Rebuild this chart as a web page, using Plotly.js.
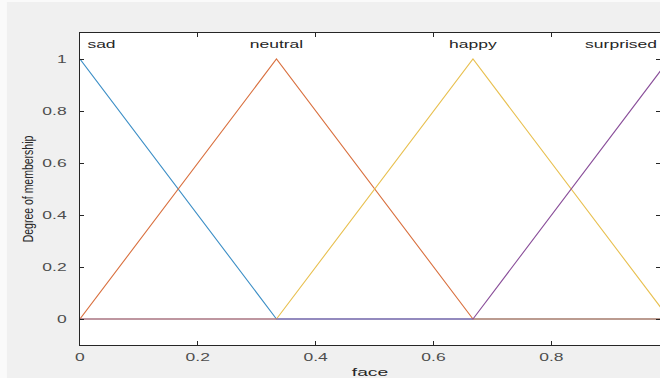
<!DOCTYPE html>
<html><head><meta charset="utf-8">
<script src="https://cdn.plot.ly/plotly-3.0.1.min.js"></script>
<style>html,body{margin:0;padding:0;background:#f0f0f0;}</style>
</head><body><div id="chart" style="width:660px;height:378px;"></div>
<script>
const mfNames = ["sad", "neutral", "happy", "surprised"];
const sadX = [0, 0.3333, 1];
const sadY = [1, 0, 0];
const neutralX = [0, 0.3333, 0.6667, 1];
const neutralY = [0, 1, 0, 0];
const happyX = [0, 0.3333, 0.6667, 1];
const happyY = [0, 0, 1, 0];
const surprisedX = [0, 0.6667, 1];
const surprisedY = [0, 0, 1];
const labelX = [0.0365, 0.3333, 0.6667, 0.918];
const labelY = [1.05, 1.05, 1.05, 1.05];
const xTicks = [0, 0.2, 0.4, 0.6, 0.8];
const yTicks = [0, 0.2, 0.4, 0.6, 0.8, 1];
const colors = ["#3d8fc6", "#d9703f", "#e8c050", "#8a4f9a"];

const series = [[sadX, sadY], [neutralX, neutralY], [happyX, happyY], [surprisedX, surprisedY]];
const traces = series.map((s, i) => ({
  x: s[0], y: s[1], type: "scatter", mode: "lines",
  line: {color: colors[i], width: 1.1}, hoverinfo: "skip", showlegend: false
}));
traces.push({
  x: labelX, y: labelY, type: "scatter", mode: "text", text: mfNames,
  textposition: "middle center", cliponaxis: false,
  textfont: {family: "Liberation Sans, Arial, sans-serif", size: 10, color: "#262626"},
  showlegend: false, hoverinfo: "skip"
});

const axisFont = {family: "Liberation Sans, Arial, sans-serif", size: 10, color: "#4d4d4d"};
const layout = {
  width: 660, height: 378,
  margin: {l: 80, r: 0, t: 33, b: 33},
  paper_bgcolor: "#f0f0f0", plot_bgcolor: "#ffffff",
  xaxis: {
    range: [0, 0.984], tickvals: xTicks, ticktext: xTicks.map(String),
    ticks: "inside", ticklen: 4, tickcolor: "#262626", mirror: "ticks",
    showline: true, linecolor: "#262626", linewidth: 1, showgrid: false, zeroline: false,
    tickfont: axisFont, ticklabelstandoff: 3,
    title: {text: "face", font: {family: "Liberation Sans, Arial, sans-serif", size: 11, color: "#262626"}, standoff: 6}
  },
  yaxis: {
    range: [-0.1, 1.1], tickvals: yTicks, ticktext: yTicks.map(String),
    ticks: "inside", ticklen: 4, tickcolor: "#262626", mirror: "ticks",
    showline: true, linecolor: "#262626", linewidth: 1, showgrid: false, zeroline: false,
    tickfont: axisFont, ticklabelstandoff: 10,
    title: {text: "Degree of membership", font: {family: "Liberation Sans, Arial, sans-serif", size: 10.5, color: "#262626"}, standoff: 19}
  },
  shapes: [
    {type: "rect", xref: "paper", yref: "paper", x0: -0.2, x1: 1.1, y0: 1.099, y1: 1.2, fillcolor: "#fafafa", line: {width: 0}, layer: "below"},
    {type: "rect", xref: "paper", yref: "paper", x0: -0.2, x1: -0.126, y0: -0.2, y1: 1.2, fillcolor: "#fafafa", line: {width: 0}, layer: "below"}
  ]
};

// the reference image is horizontally stretched; widen the glyphs to match
function stretchText(gd) {
  const sx = 1.75;
  gd.querySelectorAll("svg text").forEach(t => {
    const bb = t.getBBox();
    if (!bb.width) return;
    const tr = t.getAttribute("transform") || "";
    if (/rotate\(-90/.test(tr)) {
      const cy = bb.y + bb.height / 2;
      t.setAttribute("transform", tr + ` translate(0,${cy}) scale(1,1.45) translate(0,${-cy})`);
      return;
    }
    const anchor = t.getAttribute("text-anchor") || t.style.textAnchor || "start";
    const px = anchor === "end" ? bb.x + bb.width : anchor === "middle" ? bb.x + bb.width / 2 : bb.x;
    t.setAttribute("transform", tr + ` translate(${px},0) scale(${sx},1) translate(${-px},0)`);
  });
}
Plotly.newPlot("chart", traces, layout, {displayModeBar: false, staticPlot: true})
  .then(gd => stretchText(gd));
</script></body></html>
